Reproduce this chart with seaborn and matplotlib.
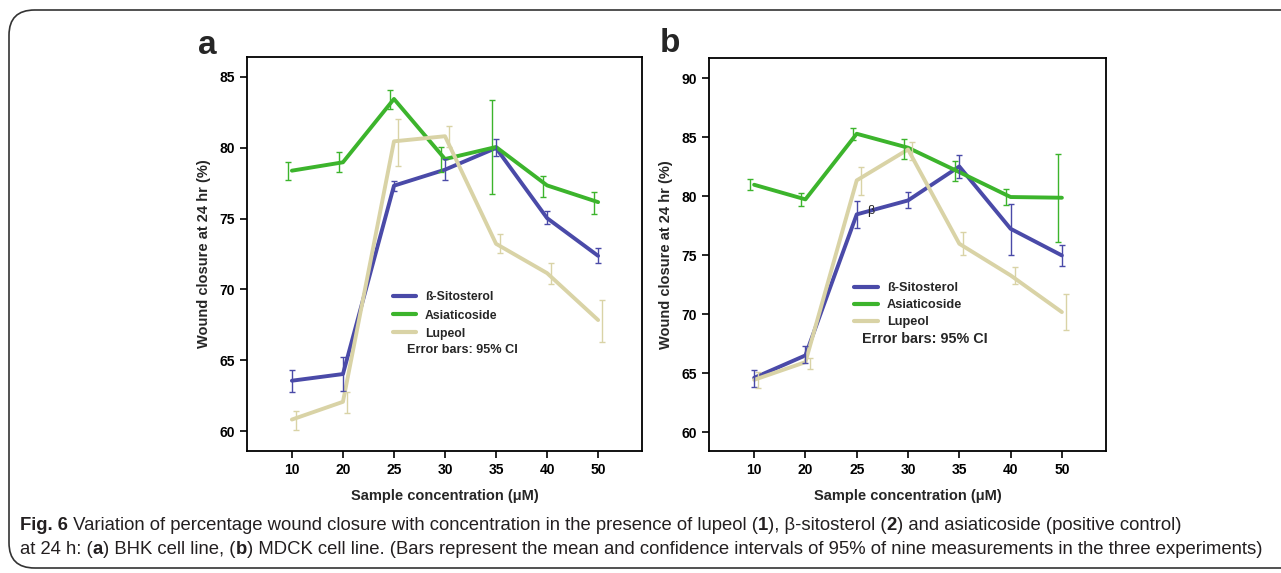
import numpy as np
import pandas as pd
import matplotlib
matplotlib.use("Agg")
import matplotlib.pyplot as plt
from matplotlib.patches import FancyBboxPatch
import seaborn as sns

# x categories (sample concentration, uM)
conc = ["10", "20", "25", "30", "35", "40", "50"]
compounds = ["ß-Sitosterol", "Asiaticoside", "Lupeol"]

# panel a: BHK cell line (mean, lower CI, upper CI)
a_sito = [63.56, 64.03, 77.32, 78.45, 79.98, 75.03, 72.37]
a_sito_lo = [62.78, 62.85, 76.97, 77.70, 79.39, 74.61, 71.90]
a_sito_hi = [64.31, 65.25, 77.62, 79.23, 80.62, 75.55, 72.89]
a_asia = [78.38, 78.97, 83.44, 79.20, 80.05, 77.34, 76.16]
a_asia_lo = [77.70, 78.28, 82.76, 78.26, 76.73, 76.49, 75.34]
a_asia_hi = [79.01, 79.67, 84.06, 80.05, 83.35, 78.03, 76.87]
a_lup = [60.82, 62.07, 80.45, 80.81, 73.22, 71.15, 67.84]
a_lup_lo = [60.05, 61.30, 78.73, 80.03, 72.56, 70.37, 66.28]
a_lup_hi = [61.44, 62.78, 82.03, 81.51, 73.93, 71.85, 69.25]

# panel b: MDCK cell line
b_sito = [64.60, 66.50, 78.45, 79.63, 82.51, 77.23, 74.97]
b_sito_lo = [63.81, 65.85, 77.29, 78.98, 81.55, 75.03, 74.04]
b_sito_hi = [65.23, 67.26, 79.58, 80.34, 83.50, 79.35, 75.88]
b_asia = [80.96, 79.72, 85.28, 84.10, 82.03, 79.92, 79.86]
b_asia_lo = [80.48, 79.15, 84.72, 83.11, 81.24, 79.21, 76.07]
b_asia_hi = [81.47, 80.28, 85.79, 84.86, 82.97, 80.62, 83.59]
b_lup = [64.43, 65.93, 81.33, 83.95, 75.96, 73.28, 70.17]
b_lup_lo = [63.76, 65.37, 80.06, 83.02, 74.97, 72.57, 68.62]
b_lup_hi = [65.08, 66.27, 82.46, 84.58, 76.95, 73.98, 71.72]

a_yticks = [60, 65, 70, 75, 80, 85]
b_yticks = [60, 65, 70, 75, 80, 85, 90]

colors = {"ß-Sitosterol": "#4a4aa8", "Asiaticoside": "#3cb42c", "Lupeol": "#d9d3a6"}
err_shift = {"ß-Sitosterol": 0.0, "Asiaticoside": -0.08, "Lupeol": 0.08}

sns.set_style("ticks")
plt.rcParams["font.family"] = ["Liberation Sans", "DejaVu Sans"]
plt.rcParams["font.weight"] = "bold"

fig = plt.figure(figsize=(12.81, 5.73), dpi=100)
ax_a = fig.add_axes([247 / 1281, 1 - 451 / 573, 395 / 1281, 394 / 573])
ax_b = fig.add_axes([709 / 1281, 1 - 451 / 573, 397 / 1281, 393 / 573])


def draw_panel(ax, means, los, his, ylim, yticks, leg_xy, leg_fs, leg_sp, err_xy, err_fs):
    rows = []
    for name, vals in zip(compounds, means):
        for i, v in enumerate(vals):
            rows.append({"pos": i, "value": v, "compound": name})
    df = pd.DataFrame(rows)
    sns.lineplot(data=df, x="pos", y="value", hue="compound", hue_order=compounds,
                 palette=colors, linewidth=2.8, ax=ax)
    for name, vals, lo, hi in zip(compounds, means, los, his):
        x = np.arange(len(conc)) + err_shift[name]
        v = np.array(vals)
        ax.errorbar(x, v, yerr=[v - np.array(lo), np.array(hi) - v], fmt="none",
                    ecolor=colors[name], elinewidth=1.0, capsize=2.5, capthick=1.0)
    ax.set_xlim(-0.88, 6.86)
    ax.set_ylim(*ylim)
    ax.set_xticks(range(len(conc)))
    ax.set_xticklabels(conc)
    ax.set_yticks(yticks)
    ax.tick_params(axis="both", labelsize=10, width=1.2, length=5, colors="black")
    for lab in ax.get_xticklabels() + ax.get_yticklabels():
        lab.set_fontweight("bold")
    for sp in ax.spines.values():
        sp.set_visible(True)
        sp.set_linewidth(1.3)
        sp.set_color("black")
    ax.set_xlabel("Sample concentration (μM)", fontsize=10.5, fontweight="bold", labelpad=9)
    ax.set_ylabel("Wound closure at 24 hr (%)", fontsize=10.5, fontweight="bold", labelpad=6)
    leg = ax.legend(loc="upper left", bbox_to_anchor=leg_xy, frameon=False, fontsize=leg_fs,
                    handlelength=1.9, handletextpad=0.7, labelspacing=leg_sp, borderpad=0,
                    borderaxespad=0)
    for t in leg.get_texts():
        t.set_fontweight("bold")
    for h in leg.get_lines():
        h.set_linewidth(3.0)
    ax.text(err_xy[0], err_xy[1], "Error bars: 95% CI", transform=ax.transAxes,
            fontsize=err_fs, fontweight="bold", va="center", ha="left")


draw_panel(ax_a, [a_sito, a_asia, a_lup], [a_sito_lo, a_asia_lo, a_lup_lo],
           [a_sito_hi, a_asia_hi, a_lup_hi], (58.6, 86.4), a_yticks,
           (0.37, 0.405), 8.8, 0.5, (0.405, 0.256), 9.1)
draw_panel(ax_b, [b_sito, b_asia, b_lup], [b_sito_lo, b_asia_lo, b_lup_lo],
           [b_sito_hi, b_asia_hi, b_lup_hi], (58.4, 91.7), b_yticks,
           (0.365, 0.43), 9.2, 0.4, (0.385, 0.285), 10.4)
ax_b.text(2.27, 78.7, "β", fontsize=9, fontweight="normal", ha="center", va="center")

fig.text(207 / 1281, 1 - 45 / 573, "a", fontsize=24, fontweight="bold", ha="center", va="center")
fig.text(670 / 1281, 1 - 44 / 573, "b", fontsize=24, fontweight="bold", ha="center", va="center")

# rounded frame around the figure
frame = FancyBboxPatch((9 / 1281, 1 - 568 / 573), 1300 / 1281, 558 / 573,
                       boxstyle="round,pad=0,rounding_size=0.02", transform=fig.transFigure,
                       facecolor="none", edgecolor="#333333", linewidth=1.2, mutation_aspect=2.2)
fig.patches.append(frame)

# caption with mixed weights
cap_font = ["Liberation Sans", "DejaVu Sans"]
cap_lines = [
    [("Fig. 6", "bold"), (" Variation of percentage wound closure with concentration in the presence of lupeol (", "normal"),
     ("1", "bold"), ("), β-sitosterol (", "normal"), ("2", "bold"), (") and asiaticoside (positive control)", "normal")],
    [("at 24 h: (", "normal"), ("a", "bold"), (") BHK cell line, (", "normal"), ("b", "bold"),
     (") MDCK cell line. (Bars represent the mean and confidence intervals of 95% of nine measurements in the three experiments)", "normal")],
]
renderer = fig.canvas.get_renderer()
for k, segs in enumerate(cap_lines):
    x = 20 / 1281
    y = 1 - (526 + 23 * k) / 573
    for txt, w in segs:
        t = fig.text(x, y, txt, fontsize=13.3, fontweight=w, family=cap_font,
                     color="#231f20", va="center", ha="left")
        bb = t.get_window_extent(renderer=renderer)
        x += bb.width / fig.bbox.width

fig.savefig("out.png", dpi=100)
